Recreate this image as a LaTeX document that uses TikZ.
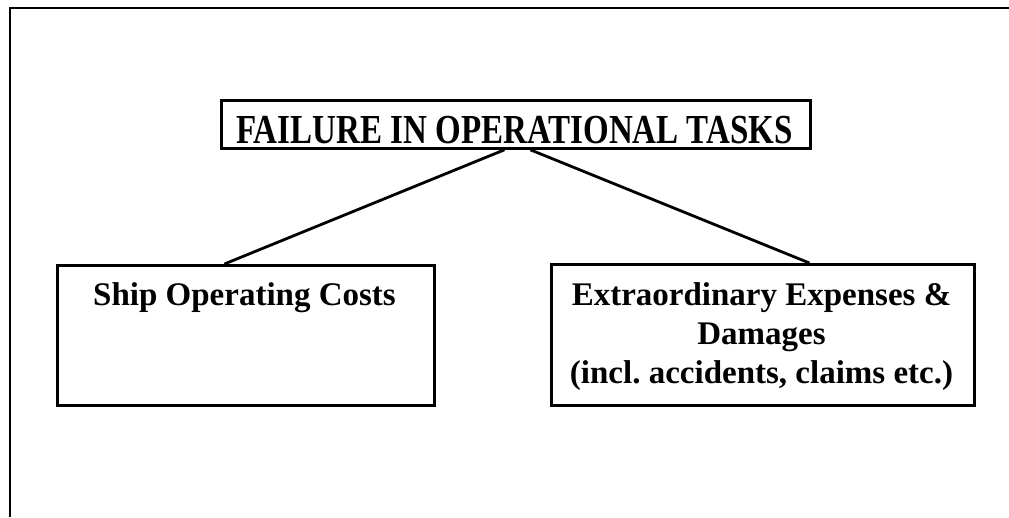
\documentclass[tikz,border=0pt]{standalone}
\usepackage{fontspec}
\usepackage{graphicx}
\setmainfont{Liberation Serif}
\usetikzlibrary{calc}
\tikzset{
  boxnode/.style={draw, line width=2.8pt, inner sep=0pt, anchor=north west},
  txt/.style={inner sep=0pt, anchor=base, font=\fontsize{33}{39}\selectfont\bfseries},
  conn/.style={line width=2.8pt},
  frameline/.style={line width=2.8pt}
}
\begin{document}
\frenchspacing
\begin{tikzpicture}[x=1pt,y=1pt]
\useasboundingbox (0,0) rectangle (1009,-517);
% outer frame (left and top only)
\coordinate (fbl) at (10,-517);
\coordinate (ftl) at (10,-8);
\coordinate (ftr) at (1009,-8);
\draw[frameline] (fbl) -- (ftl) -- (ftr);
% boxes
\node[boxnode, minimum width=589pt, minimum height=48pt] (top) at (220,-99) {};
\node[boxnode, minimum width=377pt, minimum height=140pt] (ship) at (56,-264) {};
\node[boxnode, minimum width=423pt, minimum height=141pt] (extra) at (550,-263) {};
% texts
\node[txt] (topT) at (514.5,-143) {\scalebox{1}[1.25]{FAILURE IN OPERATIONAL TASKS}};
\node[txt] (shipT) at (244.5,-305) {Ship Operating Costs};
\node[txt] (ext1) at (761.5,-305) {Extraordinary Expenses \&};
\node[txt] (ext2) at (761.5,-344) {Damages};
\node[txt] (ext3) at (761.5,-383) {(incl.\ accidents, claims etc.)};
% connectors
\draw[conn] ($(top.south)+(-11.5,0)$) -- ($(ship.north)+(-21.5,0)$);
\draw[conn] ($(top.south)+(14.5,0)$) -- ($(extra.north)+(46.5,0)$);
\end{tikzpicture}
\end{document}
